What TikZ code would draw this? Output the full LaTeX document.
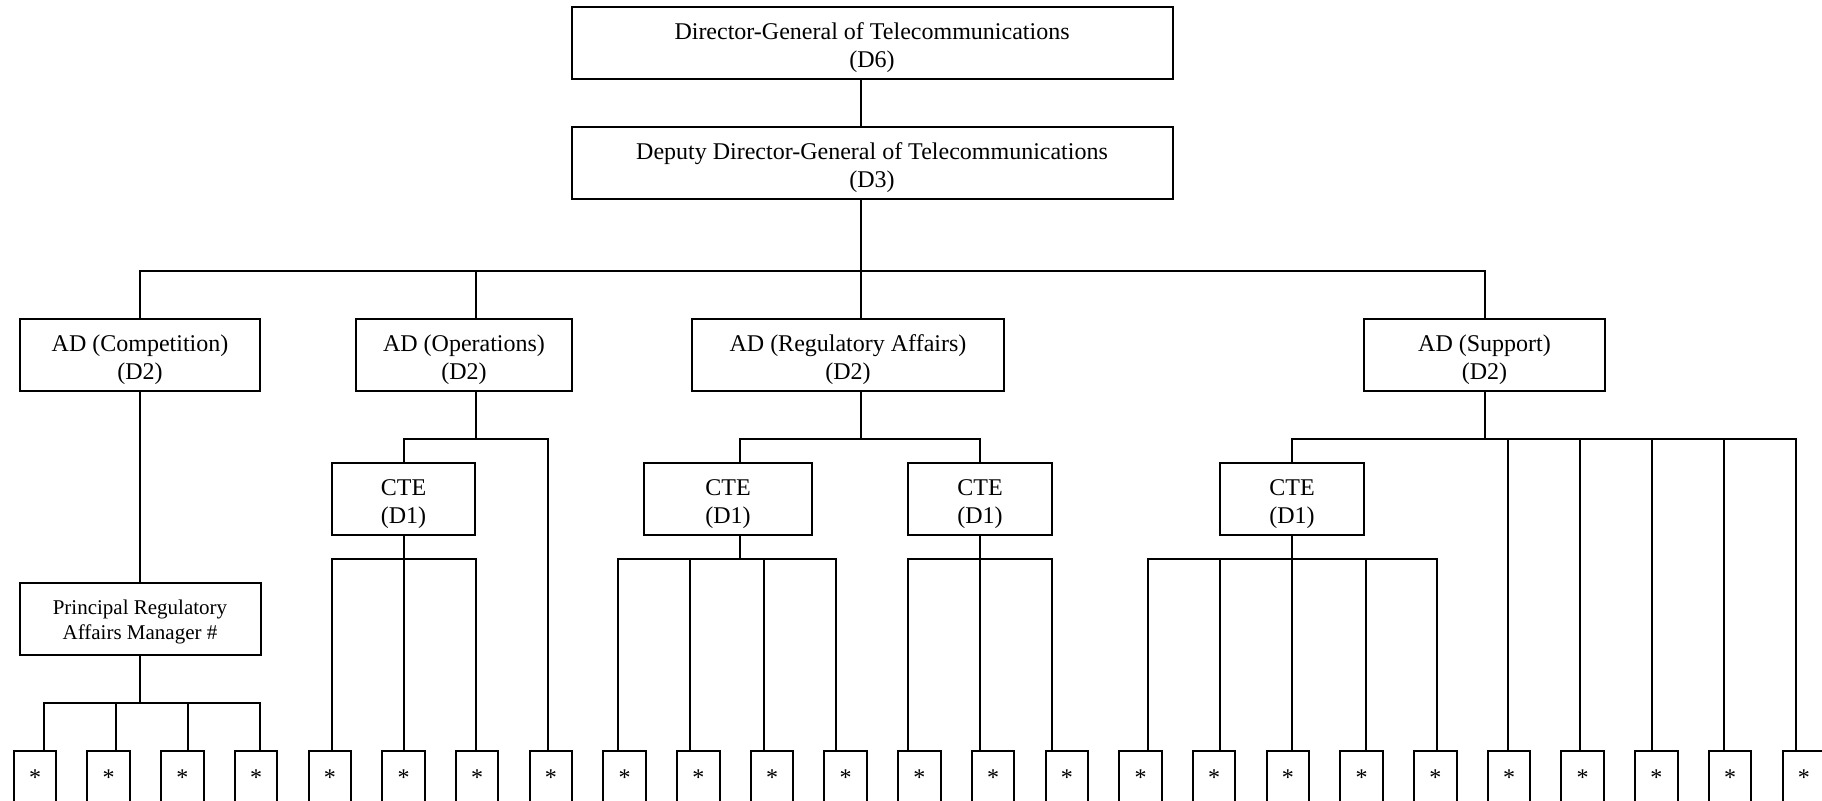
\documentclass[tikz,border=0pt]{standalone}
\usepackage{fontspec}
\setmainfont{Liberation Serif}
\usetikzlibrary{calc}

\begin{document}
\begin{tikzpicture}[x=0.5pt,y=-0.5pt,
  post/.style={draw,line width=1pt,inner sep=0pt,minimum height=36pt,align=center,text height=24.3pt,text depth=0pt,font=\fontsize{12}{14}\selectfont},
  slot/.style={draw,line width=1pt,inner sep=0pt,minimum width=21.25pt,minimum height=27pt,font=\fontsize{12}{14}\selectfont},
  link/.style={line width=1pt}]
\useasboundingbox (0,0) rectangle (1822,800);
\clip (0,0) rectangle (1822,800);

\node[post,minimum width=300.5pt] (dg) at (872,43) {Director-General of Telecommunications\\(D6)};
\node[post,minimum width=300.5pt] (ddg) at (872,163) {Deputy Director-General of Telecommunications\\(D3)};

\node[post,minimum width=120pt] (adcomp) at (140,355) {AD (Competition)\\(D2)};
\node[post,minimum width=108pt] (adops) at (464,355) {AD (Operations)\\(D2)};
\node[post,minimum width=156pt] (adreg) at (848,355) {AD (Regulatory Affairs)\\(D2)};
\node[post,minimum width=120.5pt] (adsup) at (1484.5,355) {AD (Support)\\(D2)};

\node[post,minimum width=71.5pt] (ctops) at (403.5,499) {CTE\\(D1)};
\node[post,minimum width=84pt] (ctreg1) at (728,499) {CTE\\(D1)};
\node[post,minimum width=72pt] (ctreg2) at (980,499) {CTE\\(D1)};
\node[post,minimum width=72pt] (ctsup) at (1292,499) {CTE\\(D1)};

\node[post,minimum width=120.5pt,text height=20.3pt,font=\fontsize{10.5}{12.2}\selectfont] (pram) at (140,619) {Principal Regulatory\\Affairs Manager \#};

\foreach \i in {0,...,24}
  \node[slot] (s\i) at ({35+73.7*\i},778) {*};

\coordinate (j0) at (860.6,271);
\coordinate (jops) at (476,439);
\coordinate (jreg) at (860.6,439);
\coordinate (jsup) at (1484.5,439);
\coordinate (jcops) at (403.5,559);
\coordinate (jcreg1) at (740,559);
\coordinate (jcreg2) at (980,559);
\coordinate (jcsup) at (1292,559);
\coordinate (jpram) at (140,703);

\draw[link] (dg.south -| j0) -- (ddg.north -| j0);
\draw[link] (ddg.south -| j0) -- (j0);
\draw[link] (adcomp.north) |- (j0);
\draw[link] (adsup.north) |- (j0);
\draw[link] (adops.north -| jops) |- (j0);
\draw[link] (adreg.north -| j0) -- (j0);

\draw[link] (adcomp) -- (pram);
\draw[link] (adops.south -| jops) -- (jops);
\draw[link] (adreg.south -| jreg) -- (jreg);
\draw[link] (adsup.south) -- (jsup);

\draw[link] (ctops.north) |- (jops);
\draw[link] ($(s7.north)+(-3,0)$) |- (jops);
\draw[link] (ctreg1.north -| jcreg1) |- (jreg);
\draw[link] (ctreg2.north) |- (jreg);
\draw[link] (ctsup.north) |- (jsup);
\foreach \i/\d in {20/-1,21/-3,22/-4,23/-6,24/-8}
  \draw[link] ($(s\i.north)+(\d,0)$) |- (jsup);

\draw[link] (ctops.south) -- (jcops);
\foreach \i/\d in {4/2,5/0,6/-1.5}
  \draw[link] ($(s\i.north)+(\d,0)$) |- (jcops);
\draw[link] (ctreg1.south -| jcreg1) -- (jcreg1);
\foreach \i/\d in {8/-7,9/-8,10/-8,11/-10}
  \draw[link] ($(s\i.north)+(\d,0)$) |- (jcreg1);
\draw[link] (ctreg2.south) -- (jcreg2);
\foreach \i/\d in {12/-11,13/-13,14/-15}
  \draw[link] ($(s\i.north)+(\d,0)$) |- (jcreg2);
\draw[link] (ctsup.south) -- (jcsup);
\foreach \i/\d in {15/7.5,16/6,17/4,18/4,19/2}
  \draw[link] ($(s\i.north)+(\d,0)$) |- (jcsup);
\draw[link] (pram.south) -- (jpram);
\foreach \i/\d in {0/9,1/7,2/6,3/4}
  \draw[link] ($(s\i.north)+(\d,0)$) |- (jpram);
\end{tikzpicture}
\end{document}
